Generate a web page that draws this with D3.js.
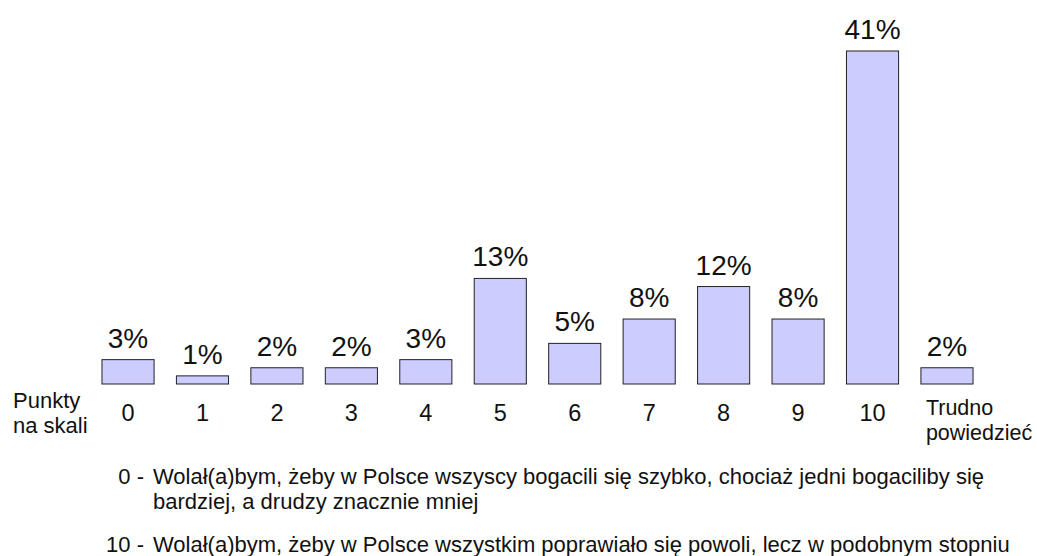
<!DOCTYPE html>
<html>
<head>
<meta charset="utf-8">
<script src="https://cdn.jsdelivr.net/npm/d3@7"></script>
<style>
  body { margin: 0; background: #fff; }
  svg { display: block; font-family: "Liberation Sans", Arial, sans-serif; }
</style>
</head>
<body>
<svg id="chart" width="1037" height="556"></svg>
<script>
const categories = ["0", "1", "2", "3", "4", "5", "6", "7", "8", "9", "10", "Trudno powiedzieć"];
const values = [3, 1, 2, 2, 3, 13, 5, 8, 12, 8, 41, 2];
const axisTitle = ["Punkty", "na skali"];
const notes = [
  { key: "0 -", lines: ["Wolał(a)bym, żeby w Polsce wszyscy bogacili się szybko, chociaż jedni bogaciliby się", "bardziej, a drudzy znacznie mniej"] },
  { key: "10 -", lines: ["Wolał(a)bym, żeby w Polsce wszystkim poprawiało się powoli, lecz w podobnym stopniu"] }
];

const svg = d3.select("#chart");

const x = d3.scaleBand()
  .domain(categories)
  .range([90.8, 984.2])
  .paddingInner(0.3)
  .paddingOuter(0.15);

const y = d3.scaleLinear()
  .domain([0, 41])
  .range([384, 51]);

// bars
svg.append("g").selectAll("rect")
  .data(values)
  .join("rect")
  .attr("x", (d, i) => x(categories[i]))
  .attr("y", d => y(d))
  .attr("width", x.bandwidth())
  .attr("height", d => y(0) - y(d))
  .attr("fill", "#ccccff")
  .attr("stroke", "#222")
  .attr("stroke-width", 1);

// value labels
svg.append("g").selectAll("text")
  .data(values)
  .join("text")
  .attr("x", (d, i) => x(categories[i]) + x.bandwidth() / 2)
  .attr("y", d => y(d) - 12)
  .attr("text-anchor", "middle")
  .attr("font-size", 28)
  .attr("fill", "#111")
  .text(d => d + "%");

// category labels
const catG = svg.append("g");
categories.forEach((c, i) => {
  if (i < categories.length - 1) {
    catG.append("text")
      .attr("x", x(c) + x.bandwidth() / 2)
      .attr("y", 421)
      .attr("text-anchor", "middle")
      .attr("font-size", 23.5)
      .attr("fill", "#111")
      .text(c);
  } else {
    const parts = c.split(" ");
    const t = catG.append("text")
      .attr("x", x(c) + 5)
      .attr("y", 415)
      .attr("font-size", 21.5)
      .attr("fill", "#111");
    parts.forEach((p, j) => {
      t.append("tspan").attr("x", x(c) + 5).attr("dy", j === 0 ? 0 : 25).text(p);
    });
  }
});

// axis title
const at = svg.append("text")
  .attr("x", 13)
  .attr("y", 408)
  .attr("font-size", 22)
  .attr("fill", "#111");
axisTitle.forEach((p, j) => {
  at.append("tspan").attr("x", 13).attr("dy", j === 0 ? 0 : 25).text(p);
});

// notes
const noteBaselines = [[484, 509], [552]];
notes.forEach((n, i) => {
  svg.append("text")
    .attr("x", 144)
    .attr("y", noteBaselines[i][0])
    .attr("text-anchor", "end")
    .attr("font-size", 22)
    .attr("fill", "#111")
    .text(n.key);
  n.lines.forEach((l, j) => {
    svg.append("text")
      .attr("x", 153)
      .attr("y", noteBaselines[i][j])
      .attr("font-size", 22)
      .attr("fill", "#111")
      .text(l);
  });
});
</script>
</body>
</html>
